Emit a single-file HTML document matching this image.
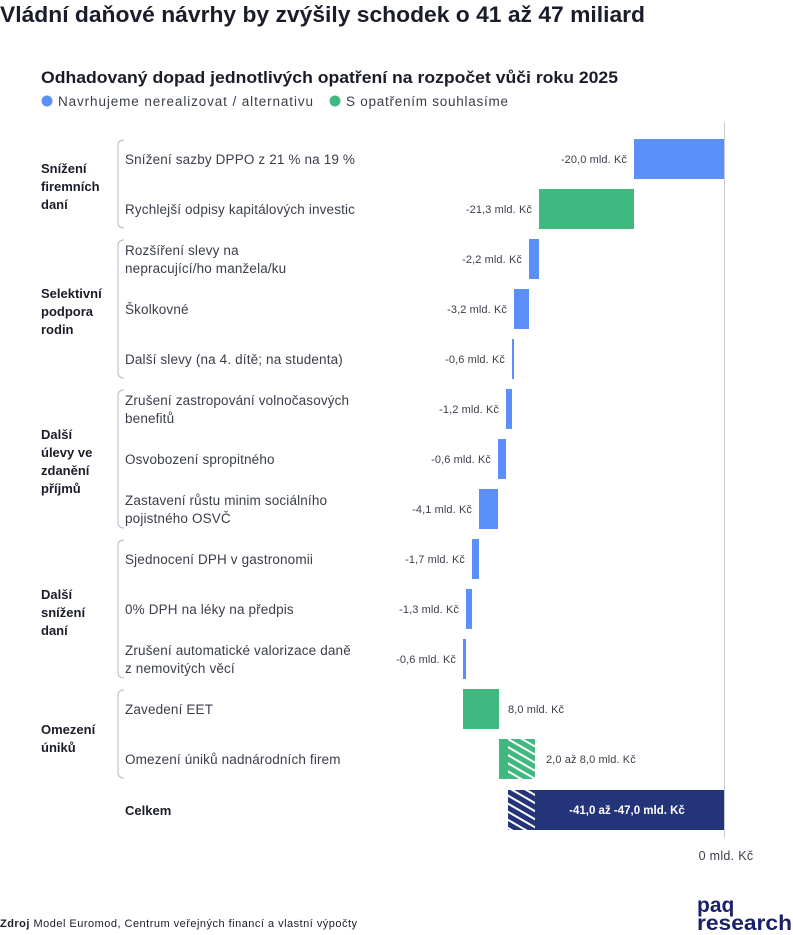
<!DOCTYPE html>
<html><head><meta charset="utf-8"><style>
body{margin:0;width:793px;height:935px;background:#fff;font-family:"Liberation Sans",sans-serif;overflow:hidden}
svg{display:block}
</style></head><body>
<svg width="793" height="935" xmlns="http://www.w3.org/2000/svg" font-family="Liberation Sans, sans-serif">
<defs>
<pattern id="hg" width="7" height="7" patternUnits="userSpaceOnUse" patternTransform="rotate(30)">
<rect width="7" height="7" fill="#3fb97f"/><rect y="0" width="7" height="2" fill="#fff"/>
</pattern>
<pattern id="hn" width="7" height="7" patternUnits="userSpaceOnUse" patternTransform="rotate(30)">
<rect width="7" height="7" fill="#24347a"/><rect y="0" width="7" height="2" fill="#fff"/>
</pattern>
</defs>
<text x="0" y="22" font-size="22" font-weight="bold" fill="#1a1d29" textLength="645" lengthAdjust="spacingAndGlyphs">Vládní daňové návrhy by zvýšily schodek o 41 až 47 miliard</text>
<text x="41" y="83" font-size="16.5" font-weight="bold" fill="#1a1d29" textLength="577" lengthAdjust="spacingAndGlyphs">Odhadovaný dopad jednotlivých opatření na rozpočet vůči roku 2025</text>
<circle cx="47" cy="101" r="5.5" fill="#5b8ff9"/>
<text x="58" y="106" font-size="13.5" fill="#3a3e4a" textLength="255" lengthAdjust="spacing">Navrhujeme nerealizovat / alternativu</text>
<circle cx="335" cy="101" r="5.5" fill="#3fb97f"/>
<text x="346" y="106" font-size="13.5" fill="#3a3e4a" textLength="162" lengthAdjust="spacing">S opatřením souhlasíme</text>

<line x1="724.5" y1="122" x2="724.5" y2="838" stroke="#c8cbd6" stroke-width="1"/>
<text x="726" y="860" font-size="12.5" fill="#3a3e4a" text-anchor="middle" letter-spacing="0.3">0 mld. Kč</text>

<g font-size="13" font-weight="bold" fill="#1a1d29">
<text x="41" y="173">Snížení</text><text x="41" y="191">firemních</text><text x="41" y="209">daní</text>
<text x="41" y="298">Selektivní</text><text x="41" y="316">podpora</text><text x="41" y="334">rodin</text>
<text x="41" y="439">Další</text><text x="41" y="457">úlevy ve</text><text x="41" y="475">zdanění</text><text x="41" y="493">příjmů</text>
<text x="41" y="599">Další</text><text x="41" y="617">snížení</text><text x="41" y="635">daní</text>
<text x="41" y="734">Omezení</text><text x="41" y="752">úniků</text>
<text x="125" y="815">Celkem</text>
</g>
<g fill="none" stroke="#b5b8c2" stroke-width="1">
<path d="M124 140 Q118 140 118 146 L118 222 Q118 228 124 228"/>
<path d="M124 240 Q118 240 118 246 L118 372 Q118 378 124 378"/>
<path d="M124 390 Q118 390 118 396 L118 522 Q118 528 124 528"/>
<path d="M124 540 Q118 540 118 546 L118 672 Q118 678 124 678"/>
<path d="M124 690 Q118 690 118 696 L118 772 Q118 778 124 778"/>
</g>
<g font-size="13.5" fill="#3a3e4a" letter-spacing="0.15">
<text x="125" y="164">Snížení sazby DPPO z 21 % na 19 %</text>
<text x="125" y="214">Rychlejší odpisy kapitálových investic</text>
<text x="125" y="255">Rozšíření slevy na</text><text x="125" y="273">nepracující/ho manžela/ku</text>
<text x="125" y="314">Školkovné</text>
<text x="125" y="364">Další slevy (na 4. dítě; na studenta)</text>
<text x="125" y="405">Zrušení zastropování volnočasových</text><text x="125" y="423">benefitů</text>
<text x="125" y="464">Osvobození spropitného</text>
<text x="125" y="505">Zastavení růstu minim sociálního</text><text x="125" y="523">pojistného OSVČ</text>
<text x="125" y="564">Sjednocení DPH v gastronomii</text>
<text x="125" y="614">0% DPH na léky na předpis</text>
<text x="125" y="655">Zrušení automatické valorizace daně</text><text x="125" y="673">z nemovitých věcí</text>
<text x="125" y="714">Zavedení EET</text>
<text x="125" y="764">Omezení úniků nadnárodních firem</text>
</g>
<g fill="#5b8ff9">
<rect x="634" y="139" width="90" height="40"/>
<rect x="529" y="239" width="10" height="40"/>
<rect x="514" y="289" width="15" height="40"/>
<rect x="512" y="339" width="2" height="40"/>
<rect x="506" y="389" width="6" height="40"/>
<rect x="498" y="439" width="8" height="40"/>
<rect x="479" y="489" width="19" height="40"/>
<rect x="472" y="539" width="7" height="40"/>
<rect x="466" y="589" width="6" height="40"/>
<rect x="463" y="639" width="3" height="40"/>
</g>
<g fill="#3fb97f">
<rect x="539" y="189" width="95" height="40"/>
<rect x="463" y="689" width="36" height="40"/>
<rect x="499" y="739" width="9" height="40"/>
</g>
<rect x="508" y="739" width="27" height="40" fill="url(#hg)"/>
<rect x="535" y="790" width="189" height="40" fill="#24347a"/>
<rect x="508" y="790" width="27" height="40" fill="url(#hn)"/>
<g font-size="11" fill="#3a3e4a" text-anchor="end" letter-spacing="0.1">
<text x="627" y="163">-20,0 mld. Kč</text>
<text x="532" y="213">-21,3 mld. Kč</text>
<text x="522" y="263">-2,2 mld. Kč</text>
<text x="507" y="313">-3,2 mld. Kč</text>
<text x="505" y="363">-0,6 mld. Kč</text>
<text x="499" y="413">-1,2 mld. Kč</text>
<text x="491" y="463">-0,6 mld. Kč</text>
<text x="472" y="513">-4,1 mld. Kč</text>
<text x="465" y="563">-1,7 mld. Kč</text>
<text x="459" y="613">-1,3 mld. Kč</text>
<text x="456" y="663">-0,6 mld. Kč</text>
</g>
<g font-size="11" fill="#3a3e4a" letter-spacing="0.1">
<text x="508" y="713">8,0 mld. Kč</text>
<text x="546" y="763">2,0 až 8,0 mld. Kč</text>
</g>
<text x="627" y="814" font-size="11.5" font-weight="bold" fill="#fff" text-anchor="middle">-41,0 až -47,0 mld. Kč</text>
<text x="0" y="927" font-size="11" fill="#1a1d29" textLength="357" lengthAdjust="spacing"><tspan font-weight="bold">Zdroj</tspan> Model Euromod, Centrum veřejných financí a vlastní výpočty</text>
<text x="697" y="912" font-size="21" font-weight="bold" fill="#1b2166">paq</text>
<text x="697" y="930" font-size="21" font-weight="bold" fill="#1b2166" textLength="95" lengthAdjust="spacingAndGlyphs">research</text>
</svg>
</body></html>
